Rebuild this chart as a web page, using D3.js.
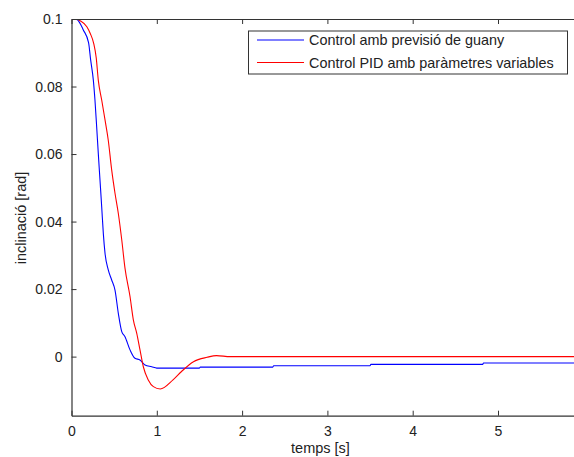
<!DOCTYPE html>
<html>
<head>
<meta charset="utf-8">
<script src="https://cdn.jsdelivr.net/npm/d3@7"></script>
<style>
  body { margin: 0; background: #fff; }
  svg { display: block; font-family: "Liberation Sans", Arial, sans-serif; }
</style>
</head>
<body>
<svg id="chart"></svg>
<script>
// series: time [s] and inclination [rad]
const blueT = [0, 0.06, 0.14, 0.2, 0.225, 0.256, 0.275, 0.295, 0.314, 0.334, 0.354, 0.373, 0.393, 0.431, 0.471, 0.51, 0.549, 0.589, 0.627, 0.686, 0.744, 0.803, 0.862, 0.94, 1.0, 1.5, 1.51, 2.36, 2.37, 3.5, 3.51, 4.82, 4.83, 6]
const blueV = [0.1, 0.0999, 0.0967, 0.093, 0.0878, 0.0819, 0.076, 0.0681, 0.0602, 0.0523, 0.0444, 0.0365, 0.0306, 0.0257, 0.0227, 0.0197, 0.0128, 0.0074, 0.0059, 0.002, -0.0005, -0.001, -0.0025, -0.003, -0.0034, -0.0034, -0.0031, -0.0031, -0.0027, -0.0027, -0.0023, -0.0023, -0.0019, -0.0019]

const redT = [0, 0.06, 0.1, 0.18, 0.22, 0.26, 0.29, 0.314, 0.354, 0.393, 0.431, 0.471, 0.51, 0.549, 0.589, 0.627, 0.686, 0.725, 0.765, 0.803, 0.842, 0.9, 0.96, 1.04, 1.19, 1.29, 1.43, 1.59, 1.7, 1.86, 6]
const redV = [0.1, 0.1, 0.0995, 0.0977, 0.0957, 0.0928, 0.0885, 0.0819, 0.076, 0.0701, 0.0641, 0.0553, 0.0484, 0.0424, 0.0346, 0.0262, 0.0178, 0.0109, 0.0069, 0.002, -0.003, -0.0069, -0.0089, -0.0096, -0.0069, -0.0044, -0.0015, -0.0002, 0.0003, 0, 0]

const seriesNames = ["Control amb previsió de guany", "Control PID amb paràmetres variables"]
const seriesColors = ["#0000ff", "#ff0000"]

const xTicks = [0, 1, 2, 3, 4, 5]
const yTicks = [0, 0.02, 0.04, 0.06, 0.08, 0.1]
const yTickLabels = ["0", "0.02", "0.04", "0.06", "0.08", "0.1"]

const w = 574, h = 457
const plotLeft = 71.5, plotTop = 19, plotBottom = 415.7
const xUnit = 85.3

const svg = d3.select('#chart').attr('width', w).attr('height', h)

const x = d3.scaleLinear().domain([0, 6]).range([plotLeft, plotLeft + 6 * xUnit])
const y = d3.scaleLinear().domain([-0.0175, 0.1]).range([plotBottom, plotTop])

svg.append('clipPath').attr('id', 'clip')
  .append('rect')
  .attr('x', plotLeft).attr('y', plotTop)
  .attr('width', x(6) - plotLeft).attr('height', plotBottom - plotTop)

// curves
const line = d3.line().x(d => x(d[0])).y(d => y(d[1])).curve(d3.curveMonotoneX)
const series = [
  d3.zip(blueT, blueV),
  d3.zip(redT, redV)
]
svg.append('g').attr('clip-path', 'url(#clip)')
  .selectAll('path')
  .data(series)
  .join('path')
  .attr('d', line)
  .attr('fill', 'none')
  .attr('stroke', (d, i) => seriesColors[i])
  .attr('stroke-width', 1.1)

// axes (matlab style, ticks inward)
const axisCol = '#333'
const bottomAxis = svg.append('g')
  .attr('transform', `translate(0, ${plotBottom})`)
  .call(d3.axisBottom(x).tickValues(xTicks).tickSizeInner(-5).tickSizeOuter(0).tickPadding(10).tickFormat(d3.format('d')))
const topAxis = svg.append('g')
  .attr('transform', `translate(0, ${plotTop})`)
  .call(d3.axisTop(x).tickValues(xTicks).tickSizeInner(-5).tickSizeOuter(0).tickFormat(''))
const leftAxis = svg.append('g')
  .attr('transform', `translate(${plotLeft}, 0)`)
  .call(d3.axisLeft(y).tickValues(yTicks).tickSizeInner(-5).tickSizeOuter(0).tickPadding(9)
    .tickFormat((d, i) => yTickLabels[i]))

;[bottomAxis, topAxis, leftAxis].forEach(g => {
  g.selectAll('path').attr('stroke', axisCol).attr('stroke-width', 1.2)
  g.selectAll('line').attr('stroke', axisCol)
  g.selectAll('text').attr('fill', '#222').style('font-size', '14px').style('font-family', null)
})
leftAxis.selectAll('.tick').filter(d => d === 0.1).select('line').remove()

// axis labels
svg.append('text')
  .attr('x', 320.5).attr('y', 453)
  .attr('text-anchor', 'middle')
  .style('font-size', '14.5px')
  .attr('fill', '#222')
  .text('temps [s]')
svg.append('text')
  .attr('transform', 'translate(26, 218) rotate(-90)')
  .attr('text-anchor', 'middle')
  .style('font-size', '14.5px')
  .attr('fill', '#222')
  .text('inclinació [rad]')

// legend
const lg = svg.append('g')
lg.append('rect')
  .attr('x', 248.5).attr('y', 31).attr('width', 319).attr('height', 43)
  .attr('fill', '#fff').attr('stroke', axisCol).attr('stroke-width', 1)
const items = lg.selectAll('g.item')
  .data(seriesNames)
  .join('g')
  .attr('transform', (d, i) => `translate(0, ${40 + i * 22.5})`)
items.append('line')
  .attr('x1', 257).attr('x2', 304)
  .attr('stroke', (d, i) => seriesColors[i]).attr('stroke-width', 1.1)
items.append('text')
  .attr('x', 309).attr('y', 5)
  .style('font-size', '14.4px')
  .attr('fill', '#222')
  .text(d => d)
</script>
</body>
</html>
